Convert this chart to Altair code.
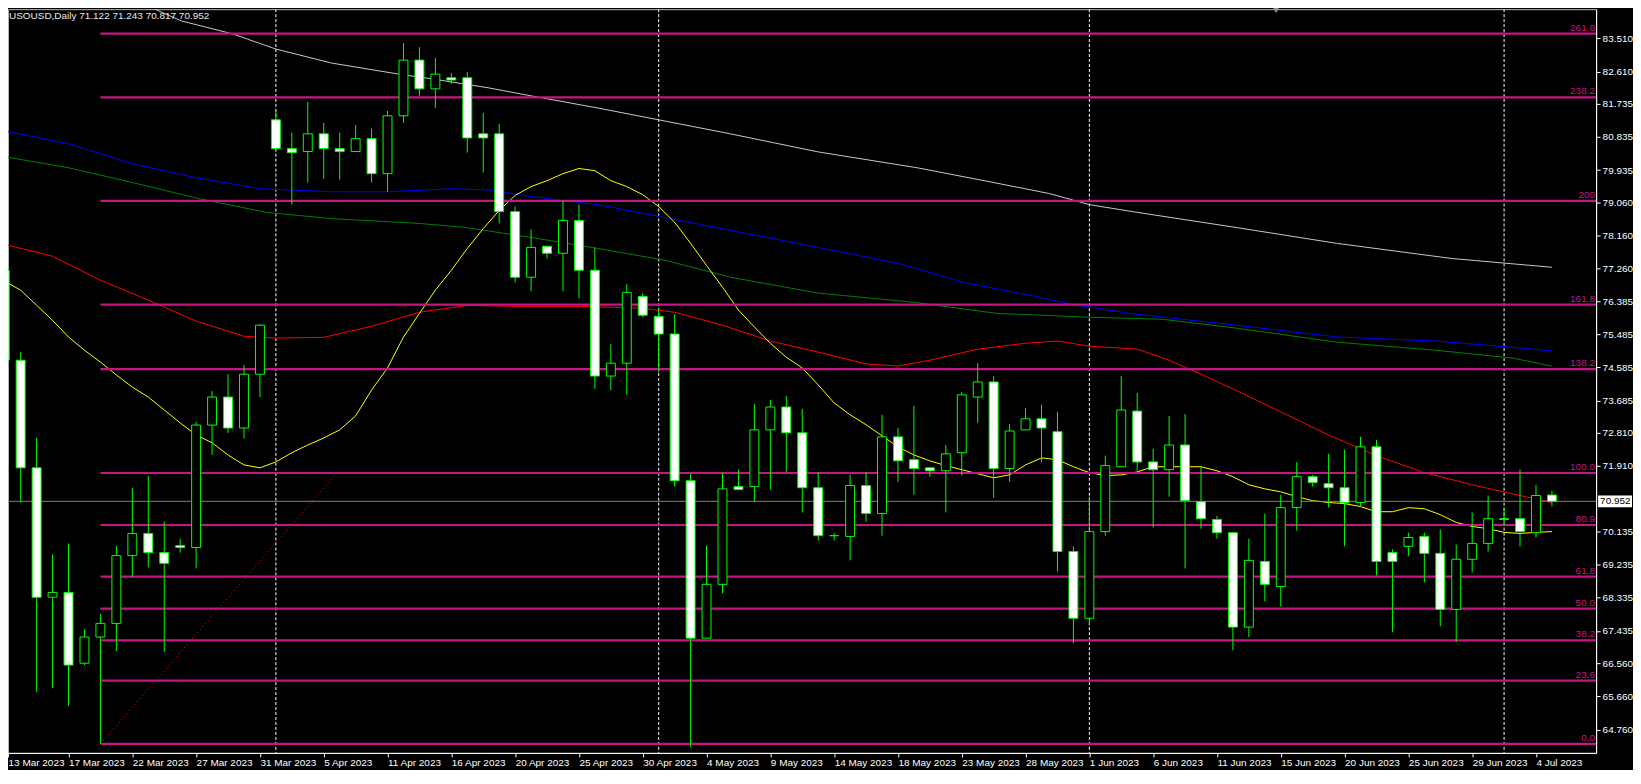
import json
import altair as alt
import pandas as pd

# ---------------- data ----------------
# bar index 0 = 13 Mar 2023 ... 97 = 5 Jul 2023 (daily bars incl. Sunday bars)
opens = [77.22, 74.78, 71.86, 68.35, 68.48, 66.56, 67.27, 67.64, 69.48, 70.08,
         69.56, 69.75, 69.70, 73.02, 73.78, 72.94, 74.40, 81.30, 80.52, 80.44,
         80.92, 80.52, 80.44, 80.79, 79.84, 81.41, 82.92, 82.14, 82.44, 82.44,
         80.92, 80.92, 78.81, 77.03, 77.87, 77.68, 78.57, 77.22, 74.35, 74.70,
         76.51, 75.97, 75.49, 71.51, 67.24, 68.70, 71.35, 71.35, 72.89, 73.51,
         72.81, 71.32, 70.02, 70.00, 71.38, 70.62, 72.70, 72.08, 71.86, 71.78,
         72.27, 73.78, 74.19, 71.84, 72.89, 73.19, 72.84, 69.59, 67.78, 70.13,
         71.89, 73.40, 72.02, 71.81, 72.48, 70.94, 70.46, 70.10, 67.54, 69.32,
         68.64, 70.78, 71.62, 71.43, 71.32, 70.92, 72.43, 69.56, 69.73, 70.00,
         69.54, 68.02, 69.38, 69.81, 70.48, 70.48, 70.10, 71.122]
highs = [77.30, 75.00, 72.67, 69.51, 69.81, 67.48, 67.89, 69.75, 71.32, 71.65,
         70.40, 69.94, 73.11, 73.94, 74.40, 74.65, 75.76, 81.57, 80.95, 81.79,
         81.22, 80.95, 81.16, 81.06, 81.54, 83.38, 83.27, 82.98, 82.57, 82.60,
         81.49, 81.19, 78.95, 78.33, 77.87, 79.11, 79.00, 77.84, 75.22, 76.84,
         76.60, 76.19, 76.03, 71.70, 69.75, 71.73, 71.81, 73.59, 73.70, 73.81,
         73.46, 71.75, 70.10, 71.67, 71.75, 73.30, 72.94, 73.54, 71.89, 72.48,
         73.92, 74.70, 74.35, 73.05, 73.48, 73.57, 73.38, 69.73, 71.08, 72.19,
         74.35, 73.89, 72.38, 73.27, 73.32, 71.89, 70.56, 70.10, 69.94, 70.62,
         71.13, 72.02, 71.67, 72.24, 72.35, 72.70, 72.62, 69.65, 70.10, 70.10,
         70.19, 69.78, 70.65, 71.11, 70.78, 71.81, 71.40, 71.243]
lows = [72.40, 70.92, 65.78, 65.89, 65.40, 66.51, 64.37, 66.89, 68.91, 69.16,
        66.86, 69.56, 69.13, 72.21, 72.81, 72.65, 73.78, 80.52, 79.00, 79.60,
        79.70, 79.68, 80.44, 79.60, 79.35, 81.22, 81.95, 81.62, 82.27, 80.41,
        79.87, 78.49, 76.89, 76.65, 77.54, 76.65, 76.46, 74.00, 73.97, 73.84,
        75.95, 74.46, 71.35, 64.29, 67.24, 68.46, 71.27, 70.94, 71.27, 71.75,
        70.65, 69.89, 69.89, 69.35, 70.40, 70.02, 71.48, 71.13, 71.62, 70.65,
        71.65, 73.08, 71.05, 71.48, 72.89, 72.02, 69.05, 67.10, 67.59, 70.02,
        71.89, 71.78, 70.24, 71.08, 69.13, 70.21, 69.94, 66.91, 67.27, 68.24,
        68.10, 70.16, 71.35, 70.78, 69.73, 70.83, 68.94, 67.40, 69.46, 68.75,
        67.56, 67.13, 69.02, 69.59, 70.29, 69.73, 69.97, 70.817]
closes = [74.78, 71.86, 68.35, 68.48, 66.51, 67.27, 67.64, 69.48, 70.08, 69.56,
          69.27, 69.70, 73.02, 73.78, 72.94, 74.40, 75.73, 80.52, 80.41, 80.92,
          80.52, 80.44, 80.79, 79.84, 81.41, 82.92, 82.14, 82.54, 82.38, 80.81,
          80.81, 78.81, 77.03, 77.84, 77.68, 78.57, 77.22, 74.35, 74.70, 76.62,
          76.00, 75.49, 71.51, 67.24, 68.70, 71.29, 71.27, 72.89, 73.51, 72.81,
          71.32, 70.02, 70.02, 71.38, 70.62, 72.70, 72.05, 71.84, 71.78, 72.24,
          73.84, 74.19, 71.84, 72.86, 73.19, 72.94, 69.59, 67.78, 70.13, 71.92,
          73.43, 72.02, 71.81, 72.48, 70.97, 70.48, 70.10, 67.54, 69.35, 68.70,
          70.78, 71.62, 71.46, 71.32, 70.92, 72.43, 69.32, 69.32, 69.97, 69.54,
          68.02, 69.38, 69.81, 70.48, 70.46, 70.13, 71.11, 70.952]

# x-axis tick labels (every 4th bar)
tick_labels = ["13 Mar 2023", "17 Mar 2023", "22 Mar 2023", "27 Mar 2023", "31 Mar 2023",
               "5 Apr 2023", "11 Apr 2023", "16 Apr 2023", "20 Apr 2023", "25 Apr 2023",
               "30 Apr 2023", "4 May 2023", "9 May 2023", "14 May 2023", "18 May 2023",
               "23 May 2023", "28 May 2023", "1 Jun 2023", "6 Jun 2023", "11 Jun 2023",
               "15 Jun 2023", "20 Jun 2023", "25 Jun 2023", "29 Jun 2023", "4 Jul 2023"]
tick_bars = [0.21] + [4 * k for k in range(1, 25)]

y_ticks = [83.510, 82.610, 81.735, 80.835, 79.935, 79.060, 78.160, 77.260, 76.385,
           75.485, 74.585, 73.685, 72.810, 71.910, 70.135, 69.235, 68.335, 67.435,
           66.560, 65.660, 64.760]

# moving averages (read at bar positions)
yellow_v = [76.92, 76.68, 76.27, 75.86, 75.41, 75.05, 74.73, 74.38, 74.05, 73.78,
            73.43, 73.08, 72.75, 72.54, 72.21, 71.94, 71.86, 72.02, 72.27, 72.48,
            72.67, 72.89, 73.27, 73.97, 74.57, 75.41, 76.05, 76.68, 77.22, 77.81,
            78.35, 78.84, 79.25, 79.49, 79.65, 79.84, 79.98, 79.92, 79.65, 79.49,
            79.27, 78.95, 78.52, 77.95, 77.35, 76.76, 76.14, 75.68, 75.24, 74.86,
            74.57, 74.11, 73.62, 73.30, 73.03, 72.73, 72.43, 72.21, 72.05, 71.92,
            71.81, 71.70, 71.59, 71.67, 71.94, 72.13, 72.08, 71.89, 71.73, 71.65,
            71.67, 71.75, 71.89, 71.89, 71.89, 71.89, 71.78, 71.62, 71.40, 71.29,
            71.21, 71.08, 70.97, 70.92, 70.89, 70.81, 70.67, 70.67, 70.78, 70.75,
            70.59, 70.38, 70.27, 70.21, 70.11, 70.08, 70.11, 70.13]
yellow_i = list(range(len(yellow_v)))

red_i = [0, 3, 6, 9, 12, 15, 17, 20, 23, 26, 29, 32, 36, 40, 42, 45, 48, 51, 54, 56,
         58, 61, 64, 66, 68, 71, 73, 75, 77, 80, 83, 86, 89, 92, 95, 97]
red_v = [77.92, 77.60, 76.95, 76.41, 75.84, 75.43, 75.38, 75.40, 75.70, 76.08, 76.27,
         76.24, 76.24, 76.19, 76.08, 75.73, 75.30, 75.00, 74.68, 74.62, 74.78, 75.08,
         75.24, 75.30, 75.16, 75.08, 74.78, 74.40, 74.00, 73.38, 72.75, 72.19, 71.73,
         71.40, 71.11, 70.92]

blue_i = [0, 4, 8, 12, 16, 20.5, 24, 28, 30.3, 33, 35.1, 37.2, 41.4, 45.5, 51, 56, 60.1,
          64.3, 66.6, 70.5, 77.2, 83.5, 89.7, 94.5, 97]
blue_v = [81.00, 80.65, 80.11, 79.73, 79.43, 79.35, 79.35, 79.43, 79.40, 79.22, 79.11,
          79.00, 78.65, 78.30, 77.84, 77.41, 76.89, 76.54, 76.32, 76.05, 75.73, 75.41,
          75.30, 75.13, 75.03]

green_i = [0, 4, 8, 12.2, 16.4, 20.5, 26, 28.9, 33, 37.2, 41.4, 45.5, 51, 57, 62.2, 67.8,
           72.6, 77.2, 83.5, 89.7, 94.5, 97]
green_v = [80.30, 80.00, 79.60, 79.16, 78.79, 78.62, 78.49, 78.38, 78.11, 77.81, 77.49,
           77.03, 76.60, 76.35, 76.05, 75.95, 75.89, 75.65, 75.27, 75.05, 74.84, 74.62]

silver_i = [9.1, 11.1, 14.3, 17, 20.5, 24.7, 26.8, 30.3, 33, 37.2, 41, 45.5, 51, 57.2,
            61.4, 65.5, 68, 71, 77.2, 83.5, 90.7, 97]
silver_v = [84.36, 83.98, 83.63, 83.22, 82.84, 82.54, 82.41, 82.17, 81.95, 81.62, 81.30,
            80.92, 80.43, 80.00, 79.65, 79.30, 79.00, 78.79, 78.38, 77.95, 77.54, 77.30]

# Fibonacci levels
fib_labels = ["0.0", "23.6", "38.2", "50.0", "61.8", "80.9", "100.0", "138.2", "161.8",
              "200", "238.2", "261.8"]
fib_prices = [64.37, 66.09, 67.18, 68.04, 68.91, 70.31, 71.72, 74.54, 76.29, 79.10,
              81.91, 83.64]
fib_start_bar = 6
fib_end_bar = 99.77
fib_label_bar = 99.7
trend_i = [6, 20.83]
trend_v = [64.37, 71.72]

# month separators (first bar of each month)
separator_bars = [17, 41, 68, 94]

last_price = 70.952
title_text = "USOUSD,Daily  71.122 71.243 70.817 70.952"

# ---------------- frames ----------------
candles = pd.DataFrame({"i": list(range(len(opens))), "o": opens, "h": highs,
                        "l": lows, "c": closes})
ma_rows = []
for name, xs_, vs_ in [("silver", silver_i, silver_v), ("blue", blue_i, blue_v),
                       ("green", green_i, green_v), ("red", red_i, red_v),
                       ("yellow", yellow_i, yellow_v)]:
    for a, b in zip(xs_, vs_):
        ma_rows.append({"i": a, "v": b, "s": name})
mas = pd.DataFrame(ma_rows)
fib = pd.DataFrame({"lab": fib_labels, "p": fib_prices, "x0": fib_start_bar,
                    "x1": fib_end_bar, "xl": fib_label_bar})
trend = pd.DataFrame({"i": trend_i, "v": trend_v})
seps = pd.DataFrame({"i": separator_bars})
lastdf = pd.DataFrame({"p": [last_price], "lab": [f"{last_price:.3f}"],
                       "hi": [last_price + 0.16], "lo": [last_price - 0.16]})
one = pd.DataFrame({"t": [title_text]})

# ---------------- scales / axes ----------------
FONT = "Liberation Sans"
xs = alt.Scale(domain=[0.206, 99.77], nice=False, zero=False)
ys = alt.Scale(domain=[64.128, 84.302], nice=False, zero=False)
xaxis = alt.Axis(values=tick_bars, labelExpr=json.dumps(tick_labels) + "[round(datum.value/4)]",
                 title=None, orient="bottom", labelAlign="left", labelBaseline="top",
                 tickSize=4, labelPadding=1, domainColor="white", tickColor="white",
                 labelColor="white", labelFont=FONT, labelFontSize=10, grid=False,
                 labelOverlap=False, labelFlush=False, labelBound=False)
yaxis = alt.Axis(values=y_ticks, format=".3f", title=None, orient="right",
                 labelAlign="left", labelBaseline="middle", tickSize=4, labelPadding=2,
                 domainColor="white", tickColor="white", labelColor="white",
                 labelFont=FONT, labelFontSize=10, grid=False, labelOverlap=False,
                 labelFlush=False, labelBound=False)


def X(f):
    return alt.X(f, type="quantitative", scale=xs, axis=xaxis)


def Y(f):
    return alt.Y(f, type="quantitative", scale=ys, axis=yaxis)


sep_layer = alt.Chart(seps).mark_rule(color="white", strokeDash=[3, 2], strokeWidth=1,
                                      clip=True).encode(x=X("i"))

ma_layer = alt.Chart(mas).mark_line(strokeWidth=1, clip=True, interpolate="linear").encode(
    x=X("i"), y=Y("v"),
    color=alt.Color("s:N", scale=alt.Scale(
        domain=["silver", "blue", "green", "red", "yellow"],
        range=["#C8C8C8", "#0000FF", "#008000", "#FF0000", "#FFFF00"]), legend=None),
    detail="s:N")

trend_layer = alt.Chart(trend).mark_line(color="#FF0000", strokeDash=[1, 3],
                                         strokeWidth=1, clip=True).encode(x=X("i"), y=Y("v"))

fib_layer = alt.Chart(fib).mark_rule(color="#C71585", strokeWidth=2.2, clip=True).encode(
    x=X("x0"), x2=alt.X2("x1"), y=Y("p"))

fib_text = alt.Chart(fib).mark_text(color="#C71585", align="right", baseline="bottom",
                                    dy=-1, font=FONT, fontSize=10).encode(
    x=X("xl"), y=Y("p"), text="lab:N")

price_line = alt.Chart(lastdf).mark_rule(color="#808080", strokeWidth=1).encode(y=Y("p"))

wicks = alt.Chart(candles).mark_rule(color="#00FF00", strokeWidth=1, clip=True).encode(
    x=X("i"), y=Y("l"), y2=alt.Y2("h"))

bodies = alt.Chart(candles).transform_calculate(
    xa="datum.i - 0.28", xb="datum.i + 0.28"
).mark_bar(stroke="#00FF00", strokeWidth=1, clip=True).encode(
    x=X("xa:Q"), x2=alt.X2("xb:Q"), y=Y("o"), y2=alt.Y2("c"),
    fill=alt.condition("datum.c < datum.o", alt.value("white"), alt.value("black")))

title_layer = alt.Chart(one).mark_text(color="#E8E8E8", align="left", baseline="top",
                                       font=FONT, fontSize=10).encode(
    x=alt.value(1), y=alt.value(2), text="t:N")

marker = alt.Chart(one).mark_point(shape="triangle-down", filled=True, color="#8A98A8",
                                   size=45, opacity=1).encode(
    x=alt.value(1272), y=alt.value(1))

price_box = alt.Chart(lastdf).mark_rect(color="white", clip=False).encode(
    x=alt.value(1595), x2=alt.value(1629), y=Y("hi"), y2=alt.Y2("lo"))
price_txt = alt.Chart(lastdf).mark_text(color="black", align="left", baseline="middle",
                                        font=FONT, fontSize=10, clip=False).encode(
    x=alt.value(1597), y=Y("p"), text="lab:N")

chart = alt.layer(
    sep_layer, ma_layer, trend_layer, fib_layer, fib_text, price_line,
    wicks, bodies, title_layer, marker, price_box, price_txt
).properties(
    width=1593, height=746,
    autosize=alt.AutoSizeParams(type="none"),
    padding={"left": 0, "top": 0, "right": 37, "bottom": 16},
    background="black",
).configure_view(stroke="#B8B8B8", strokeWidth=1)

chart.save("out.html", embed_options={"renderer": "svg", "actions": False})
